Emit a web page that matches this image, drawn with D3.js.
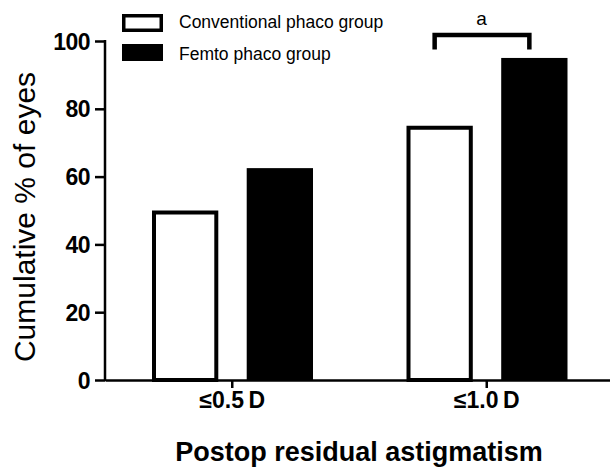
<!DOCTYPE html>
<html>
<head>
<meta charset="utf-8">
<script src="https://cdn.jsdelivr.net/npm/d3@7"></script>
<style>
  body { margin: 0; background: #fff; }
  text { font-family: Arial, "Liberation Sans", sans-serif; }
</style>
</head>
<body>
<div id="canvas"></div>
<script>
const categories = ["≤0.5\u2009D", "≤1.0\u2009D"];
const groups = ["Conventional phaco group", "Femto phaco group"];
const conventional = [50, 75];
const femto = [62.5, 95];
const yTicks = [0, 20, 40, 60, 80, 100];

const width = 610;
const height = 468;
const margin = { top: 41, right: 0, bottom: 88, left: 105 };
const baseY = height - margin.bottom;
const font = "Arial, 'Liberation Sans', sans-serif";

const svg = d3
  .select("#canvas")
  .append("svg")
  .attr("width", width)
  .attr("height", height);

const x = d3.scaleBand().domain(categories).range([margin.left, 614]).padding(0);
const x1 = d3.scaleBand().domain(groups).range([47, 208]).paddingInner(0.3);
const y = d3.scaleLinear().domain([0, 100]).range([baseY, margin.top]);

const rows = categories.map((c, i) => ({
  cat: c,
  vals: [
    { g: groups[0], v: conventional[i] },
    { g: groups[1], v: femto[i] },
  ],
}));

const sw = 4;
const bars = svg
  .selectAll(".grp")
  .data(rows)
  .join("g")
  .attr("class", "grp")
  .attr("transform", (d) => "translate(" + x(d.cat) + ",0)");

bars
  .selectAll("rect")
  .data((d) => d.vals)
  .join("rect")
  .attr("x", (d) => (d.g == groups[0] ? x1(d.g) + sw / 2 : x1(d.g)))
  .attr("y", (d) => (d.g == groups[0] ? y(d.v) + sw / 2 : y(d.v)))
  .attr("width", (d) => (d.g == groups[0] ? x1.bandwidth() - sw : x1.bandwidth()))
  .attr("height", (d) => (d.g == groups[0] ? baseY - y(d.v) - sw / 2 : baseY - y(d.v)))
  .attr("fill", (d) => (d.g == groups[0] ? "#fff" : "#000"))
  .attr("stroke", (d) => (d.g == groups[0] ? "#000" : "none"))
  .attr("stroke-width", sw);

// axes
const yAxis = svg
  .append("g")
  .attr("transform", "translate(" + margin.left + ",0)")
  .call(d3.axisLeft(y).tickValues(yTicks).tickSize(10).tickPadding(5).tickSizeOuter(0));
yAxis.select(".domain").attr("stroke-width", 2.5).attr("d", "M0," + (baseY + 1) + "V" + (margin.top - 1));
yAxis.selectAll(".tick line").attr("stroke-width", 2.5);
yAxis
  .selectAll(".tick text")
  .attr("font-size", 23)
  .attr("font-weight", "bold")
  .attr("letter-spacing", -0.5)
  .attr("dy", "0.35em")
  .attr("fill", "#000")
  .attr("font-family", font);

const xAxis = svg
  .append("g")
  .attr("transform", "translate(0," + baseY + ")")
  .call(d3.axisBottom(x).tickSize(8).tickPadding(6).tickSizeOuter(0));
xAxis.select(".domain").attr("stroke-width", 2.5);
xAxis.selectAll(".tick line").attr("stroke-width", 2.5);
xAxis
  .selectAll(".tick text")
  .attr("y", 28)
  .attr("dy", 0)
  .attr("font-size", 23)
  .attr("font-weight", "bold")
  .attr("fill", "#000")
  .attr("font-family", font);

// axis titles
svg
  .append("text")
  .attr("transform", "translate(35," + (72 + 362) / 2 + ") rotate(-90)")
  .attr("text-anchor", "middle")
  .attr("font-size", 30)
  .text("Cumulative % of eyes");

svg
  .append("text")
  .attr("x", 359)
  .attr("y", 461)
  .attr("text-anchor", "middle")
  .attr("font-size", 27)
  .attr("font-weight", "bold")
  .text("Postop residual astigmatism");

// significance bracket over ≤1.0 D
const c2 = categories[1];
const bx0 = x(c2) + x1(groups[0]) + x1.bandwidth() / 2 - 5;
const bx1 = x(c2) + x1(groups[1]) + x1.bandwidth() / 2 - 5;
svg
  .append("path")
  .attr("d", "M" + bx0 + "," + y(97.5) + "V" + y(101.8) + "H" + bx1 + "V" + y(97.5))
  .attr("fill", "none")
  .attr("stroke", "#000")
  .attr("stroke-width", 4.5);
svg
  .append("text")
  .attr("x", (bx0 + bx1) / 2 - 0.5)
  .attr("y", 25)
  .attr("text-anchor", "middle")
  .attr("font-size", 19)
  .text("a");

// legend
const legend = svg.append("g").attr("transform", "translate(122,14)");
legend
  .selectAll("rect")
  .data(groups)
  .join("rect")
  .attr("x", (d, i) => (i == 0 ? 1.75 : 0))
  .attr("y", (d, i) => (i == 0 ? 1.75 : 30))
  .attr("width", (d, i) => (i == 0 ? 37.5 : 41))
  .attr("height", (d, i) => (i == 0 ? 14.5 : 17))
  .attr("fill", (d, i) => (i == 0 ? "#fff" : "#000"))
  .attr("stroke", (d, i) => (i == 0 ? "#000" : "none"))
  .attr("stroke-width", 3.5);
legend
  .selectAll("text")
  .data(groups)
  .join("text")
  .attr("x", 57)
  .attr("y", (d, i) => 14 + i * 31.5)
  .attr("font-size", 17.5)
  .text((d) => d);
</script>
</body>
</html>
